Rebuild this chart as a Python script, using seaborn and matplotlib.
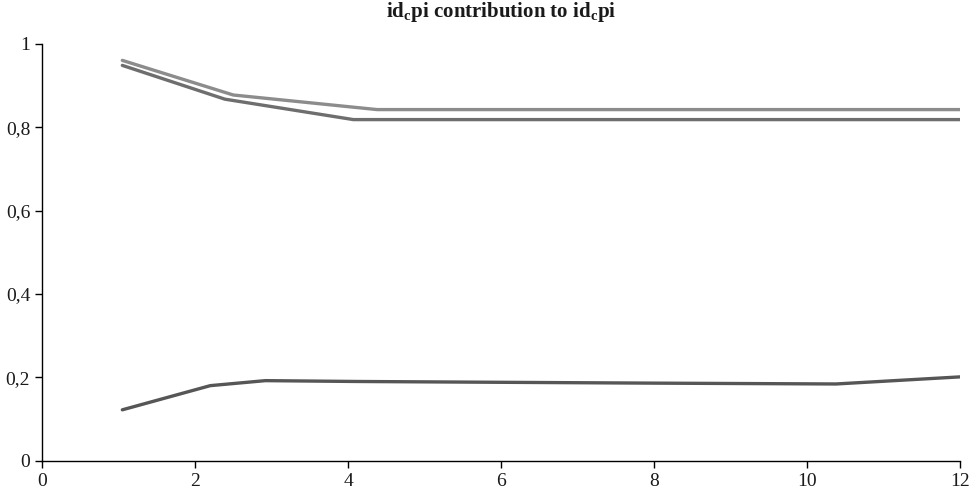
import numpy as np
import pandas as pd
import matplotlib
matplotlib.use("Agg")
import matplotlib.pyplot as plt
import seaborn as sns
from matplotlib.ticker import FuncFormatter

# Data
upper_x = [1.05, 2.50, 4.38, 12.0]
upper_y = [0.960, 0.877, 0.842, 0.842]

middle_x = [1.05, 2.39, 4.07, 12.0]
middle_y = [0.948, 0.867, 0.818, 0.818]

lower_x = [1.05, 2.20, 2.92, 4.10, 6.0, 8.0, 10.38, 12.0]
lower_y = [0.122, 0.180, 0.192, 0.190, 0.188, 0.186, 0.184, 0.201]

series_names = ["upper", "middle", "lower"]
series_colors = ["#8c8c8c", "#6e6e6e", "#565656"]

x_ticks = [0, 2, 4, 6, 8, 10, 12]
y_ticks = [0, 0.2, 0.4, 0.6, 0.8, 1.0]
title = r"id$_\mathregular{c}$pi contribution to id$_\mathregular{c}$pi"

frames = []
for name, xs, ys in zip(series_names, [upper_x, middle_x, lower_x], [upper_y, middle_y, lower_y]):
    frames.append(pd.DataFrame({"x": xs, "y": ys, "series": name}))
df = pd.concat(frames, ignore_index=True)

sns.set_style("ticks")
plt.rcParams["font.family"] = ["Liberation Serif", "DejaVu Serif"]
plt.rcParams["mathtext.fontset"] = "custom"
plt.rcParams["mathtext.rm"] = "Liberation Serif:bold"

fig = plt.figure(figsize=(9.76, 5.03), dpi=100)
ax = fig.add_axes([42 / 976, 42.3 / 503, (960 - 42) / 976, (460.7 - 43.7) / 503])

sns.lineplot(data=df, x="x", y="y", hue="series", palette=dict(zip(series_names, series_colors)),
             linewidth=2.4, legend=False, ax=ax, sort=False, estimator=None)

ax.set_xlim(0, 12)
ax.set_ylim(0, 1)
ax.set_xticks(x_ticks)
ax.set_yticks(y_ticks)
fmt = FuncFormatter(lambda v, p: ("%g" % round(v, 2)).replace(".", ","))
ax.xaxis.set_major_formatter(fmt)
ax.yaxis.set_major_formatter(fmt)
ax.set_xlabel("")
ax.set_ylabel("")
ax.tick_params(axis="both", labelsize=14, length=5, width=1, color="black", labelcolor="#1a1a1a")
for s in ["top", "right"]:
    ax.spines[s].set_visible(False)
for s in ["left", "bottom"]:
    ax.spines[s].set_color("black")
    ax.spines[s].set_linewidth(1)
ax.set_title(title, fontsize=15, fontweight="bold", pad=19, color="#1a1a1a")

fig.savefig("out.png", dpi=100)
